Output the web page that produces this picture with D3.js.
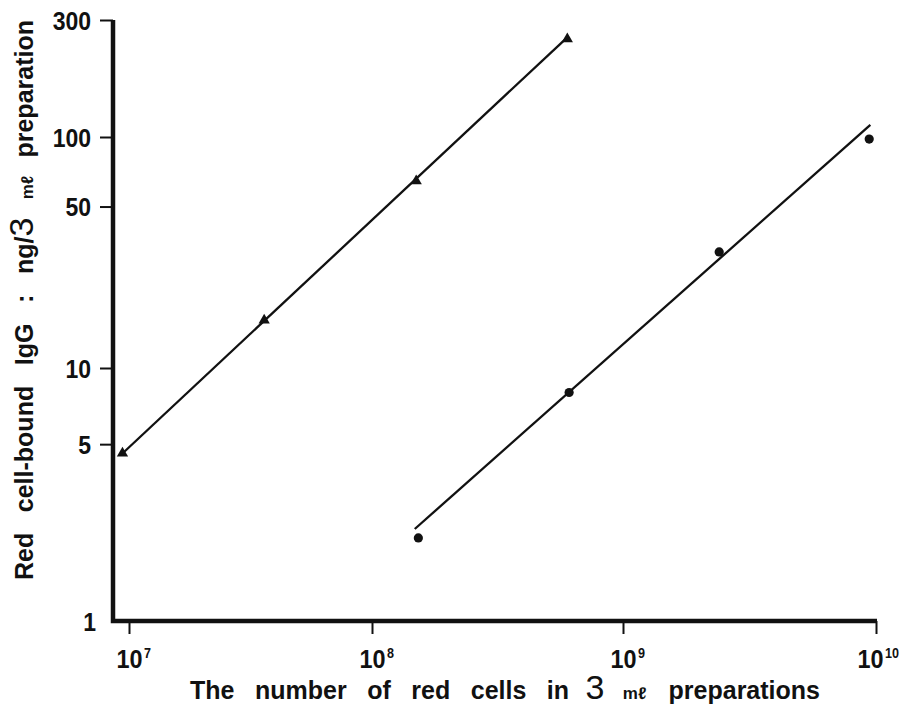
<!DOCTYPE html>
<html>
<head>
<meta charset="utf-8">
<script src="https://cdn.jsdelivr.net/npm/d3@7"></script>
<style>
  body { margin: 0; background: #fff; }
  svg text { font-family: "Liberation Sans", Arial, sans-serif; fill: #111; }
</style>
</head>
<body>
<svg id="chart"></svg>
<script>
// triangles: upper series
const triCells = [9.4e6, 3.6e7, 1.5e8, 6.0e8];
const triIgG = [4.6, 16.1, 64.5, 251];
// circles: lower series
const dotCells = [1.53e8, 6.1e8, 2.4e9, 9.4e9];
const dotIgG = [2.13, 8.0, 31.8, 98];
// fitted lines as drawn
const triFitCells = [9.3e6, 6.0e8];
const triFitIgG = [4.55, 255];
const dotFitCells = [1.48e8, 9.5e9];
const dotFitIgG = [2.31, 112];

const xTicks = [1e7, 1e8, 1e9, 1e10];
const xTickExp = ["7", "8", "9", "10"];
const yTicks = [1, 5, 10, 50, 100, 300];

const width = 907;
const height = 707;
const ink = "#111";

let svg = d3.select("#chart")
            .attr("width", width)
            .attr("height", height);

// the printed axes are not quite even per decade, so anchor each decade
let x = d3.scaleLog()
        .domain([1e7, 1e8, 1e9, 1e10])
        .range([129, 372, 623, 876]);

let y = d3.scaleLog()
        .domain([1, 10, 100, 300])
        .range([621, 368, 137, 20]);

const axisX = 113;
const axisY = 621;

// x ticks
let gx = svg.append("g")
            .attr("transform", `translate(0, ${axisY})`)
            .call(d3.axisBottom(x)
                .tickValues(xTicks)
                .tickSize(13)
                .tickSizeOuter(0)
                .tickFormat(""));
gx.select(".domain").remove();
gx.selectAll(".tick line").attr("stroke", ink).attr("stroke-width", 2);

gx.selectAll(".tick").each(function(d, i) {
    // last label sits a little left of its tick, as printed
    let shift = i === xTicks.length - 1 ? -6 : 0;
    let t = d3.select(this).append("g")
        .attr("transform", `translate(${shift}, 0) scale(0.9, 1)`);
    t.append("text")
        .attr("x", 0)
        .attr("y", 47)
        .attr("text-anchor", "middle")
        .style("font-size", "26px")
        .style("font-weight", "bold")
        .text("10");
    t.append("text")
        .attr("x", 16)
        .attr("y", 37)
        .attr("text-anchor", "start")
        .style("font-size", "14px")
        .style("font-weight", "bold")
        .text(xTickExp[i]);
});

// y ticks
let gy = svg.append("g")
            .attr("transform", `translate(${axisX}, 0)`)
            .call(d3.axisLeft(y)
                .tickValues(yTicks)
                .tickSize(13)
                .tickSizeOuter(0)
                .tickFormat(d3.format("d")));
gy.select(".domain").remove();
gy.selectAll(".tick line")
    .attr("stroke", ink)
    .attr("stroke-width", 2)
    .attr("opacity", d => d === 1 ? 0 : 1);
gy.selectAll(".tick text")
    .attr("fill", ink)
    .style("font-size", "25px")
    .style("font-weight", "bold")
    .attr("dy", "0.36em")
    .attr("transform", d => `translate(${d === 1 ? -17 : -22}, 0) scale(0.92, 1)`)
    .attr("x", 0);

// axis frame
svg.append("path")
    .attr("d", `M${axisX},${y(300)} V${axisY} H${x(1e10) + 1}`)
    .attr("fill", "none")
    .attr("stroke", ink)
    .attr("stroke-width", 4.5)
    .attr("stroke-linejoin", "miter");

// fitted lines
let line = d3.line()
    .x(d => x(d[0]))
    .y(d => y(d[1]));

svg.append("path")
    .attr("d", line(d3.zip(triFitCells, triFitIgG)))
    .attr("fill", "none")
    .attr("stroke", ink)
    .attr("stroke-width", 2.3);

svg.append("path")
    .attr("d", line(d3.zip(dotFitCells, dotFitIgG)))
    .attr("fill", "none")
    .attr("stroke", ink)
    .attr("stroke-width", 2.3);

// points
svg.append("g")
    .selectAll("path")
    .data(d3.zip(triCells, triIgG))
    .enter()
    .append("path")
    .attr("transform", d => `translate(${x(d[0])}, ${y(d[1])})`)
    .attr("d", d3.symbol(d3.symbolTriangle, 55))
    .attr("fill", ink);

svg.append("g")
    .selectAll("circle")
    .data(d3.zip(dotCells, dotIgG))
    .enter()
    .append("circle")
    .attr("cx", d => x(d[0]))
    .attr("cy", d => y(d[1]))
    .attr("r", 4.6)
    .attr("fill", ink);

// axis titles, with the big "3" and small "mℓ"
function title(g, before, after, pull) {
    let t = g.append("text")
        .attr("text-anchor", "middle")
        .style("font-size", "25px")
        .style("font-weight", "bold");
    t.append("tspan").text(before);
    t.append("tspan").attr("dx", -pull).style("font-size", "34px").style("font-weight", "normal").text("3");
    t.append("tspan").style("font-size", "17px").text(" mℓ ");
    t.append("tspan").attr("dx", pull).text(after);
    return t;
}

// stretch the word gaps so the title spans what the print spans
function fitWords(t, target) {
    t.style("word-spacing", "0px");
    let len = t.node().getComputedTextLength();
    let gaps = t.text().split(" ").length - 1;
    t.style("word-spacing", `${(target - len) / gaps}px`);
}

let xt = title(svg.append("g").attr("transform", "translate(505, 699)"),
    "The number of red cells in ", "preparations", 4);
fitWords(xt, 630);

let yt = title(svg.append("g").attr("transform", "translate(33, 300) rotate(-90)"),
    "Red cell-bound IgG : ng/", "preparation", 0);
fitWords(yt, 560);
</script>
</body>
</html>
